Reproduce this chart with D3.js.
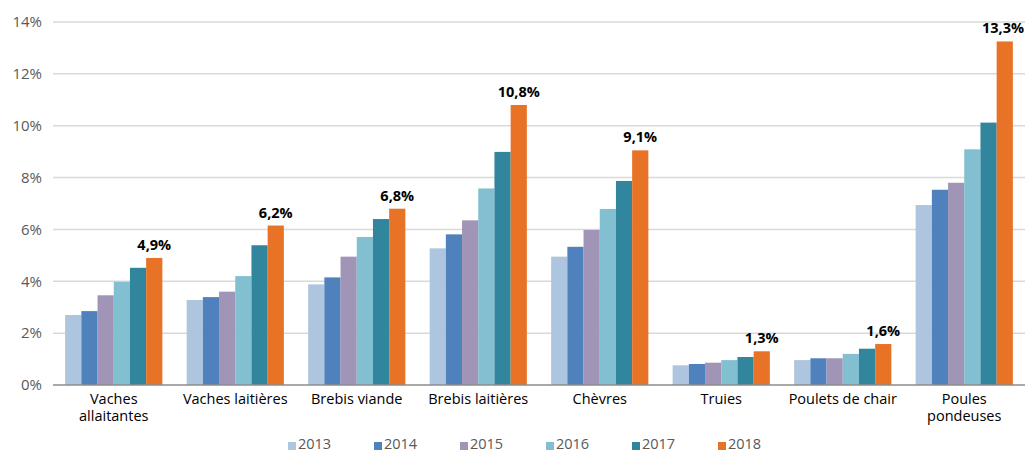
<!DOCTYPE html>
<html>
<head>
<meta charset="utf-8">
<script src="https://cdn.jsdelivr.net/npm/d3@7"></script>
<style>
  body { margin: 0; background: #fff; }
  text { font-family: "Open Sans", Lato, sans-serif; }
</style>
</head>
<body>
<div id="chart"></div>
<script>
// categories (two-line labels split by |)
var categories = ["Vaches|allaitantes", "Vaches laitières", "Brebis viande", "Brebis laitières",
                  "Chèvres", "Truies", "Poulets de chair", "Poules|pondeuses"];
var years = ["2013", "2014", "2015", "2016", "2017", "2018"];

var v2013 = [2.70, 3.28, 3.88, 5.27, 4.95, 0.76, 0.96, 6.94];
var v2014 = [2.85, 3.39, 4.15, 5.81, 5.33, 0.81, 1.03, 7.53];
var v2015 = [3.46, 3.60, 4.95, 6.35, 5.98, 0.86, 1.03, 7.80];
var v2016 = [3.98, 4.20, 5.71, 7.58, 6.79, 0.96, 1.20, 9.09];
var v2017 = [4.52, 5.39, 6.40, 8.99, 7.87, 1.08, 1.40, 10.12];
var v2018 = [4.9, 6.15, 6.8, 10.8, 9.05, 1.3, 1.58, 13.25];
var labels2018 = ["4,9%", "6,2%", "6,8%", "10,8%", "9,1%", "1,3%", "1,6%", "13,3%"];
var yTicks = [0, 2, 4, 6, 8, 10, 12, 14];

var series = [v2013, v2014, v2015, v2016, v2017, v2018];
var colors = ["#adc5de", "#4f81bd", "#a094b7", "#82bfd0", "#31859c", "#e87326"];

var width = 1025, height = 453;
var plotLeft = 53, plotRight = 1025, plotTop = 22, plotBottom = 385;

var svg = d3.select("#chart").append("svg")
    .attr("width", width)
    .attr("height", height);

var y = d3.scaleLinear().domain([0, 14]).range([plotBottom, plotTop]);
var x0 = d3.scaleBand().domain(d3.range(categories.length)).range([plotLeft, plotRight]).paddingInner(0.2).paddingOuter(0.1);
var x1 = d3.scaleBand().domain(d3.range(years.length)).range([0, x0.bandwidth()]);

// gridlines
svg.append("g").selectAll("line").data(yTicks.filter(function(d) { return d > 0; }))
    .enter().append("line")
    .attr("x1", plotLeft).attr("x2", plotRight)
    .attr("y1", function(d) { return y(d); })
    .attr("y2", function(d) { return y(d); })
    .attr("stroke", "#d9d9d9")
    .attr("stroke-width", 1.5);

// y tick labels
svg.append("g").selectAll("text").data(yTicks)
    .enter().append("text")
    .attr("x", 42)
    .attr("y", function(d) { return y(d); })
    .attr("dy", "0.35em")
    .attr("text-anchor", "end")
    .attr("fill", "#595959")
    .attr("font-size", 15)
    .text(function(d) { return d + "%"; });

// bars
var groups = svg.append("g").selectAll("g").data(categories)
    .enter().append("g")
    .attr("transform", function(d, i) { return "translate(" + x0(i) + ",0)"; });

groups.selectAll("rect")
    .data(function(d, i) { return series.map(function(s, k) { return {k: k, v: s[i]}; }); })
    .enter().append("rect")
    .attr("x", function(d) { return x1(d.k); })
    .attr("width", x1.bandwidth())
    .attr("y", function(d) { return y(d.v); })
    .attr("height", function(d) { return y(0) - y(d.v); })
    .attr("fill", function(d) { return colors[d.k]; });

// data labels on 2018 bars
groups.append("text")
    .attr("x", x1(5) + x1.bandwidth() / 2)
    .attr("y", function(d, i) { return y(v2018[i]) - 8; })
    .attr("text-anchor", "middle")
    .attr("font-size", 14.5)
    .attr("font-weight", "bold")
    .attr("fill", "#000")
    .text(function(d, i) { return labels2018[i]; })
    .each(function(d, i) {
        // keep label inside the svg
        var over = x0(i) + this.getBBox().x + this.getBBox().width - (width - 1);
        if (over > 0) d3.select(this).attr("x", +d3.select(this).attr("x") - over);
    });

// x axis line
svg.append("line")
    .attr("x1", plotLeft).attr("x2", plotRight)
    .attr("y1", y(0)).attr("y2", y(0))
    .attr("stroke", "#8c8c8c")
    .attr("stroke-width", 1.5);

// category labels
var cat = svg.append("g").selectAll("text").data(categories)
    .enter().append("text")
    .attr("x", function(d, i) { return x0(i) + x0.bandwidth() / 2; })
    .attr("y", 404)
    .attr("text-anchor", "middle")
    .attr("font-size", 14.5)
    .attr("fill", "#000");
cat.selectAll("tspan").data(function(d) { return d.split("|"); })
    .enter().append("tspan")
    .attr("x", function() { return this.parentNode.getAttribute("x"); })
    .attr("dy", function(d, i) { return i ? 17 : 0; })
    .text(function(d) { return d; });

// legend
var legend = svg.append("g").selectAll("g").data(years)
    .enter().append("g")
    .attr("transform", function(d, i) { return "translate(" + (288 + i * 86) + ",444)"; });
legend.append("rect")
    .attr("x", 0).attr("y", -2)
    .attr("width", 8).attr("height", 8)
    .attr("fill", function(d, i) { return colors[i]; });
legend.append("text")
    .attr("x", 10).attr("y", 0)
    .attr("dy", "0.35em")
    .attr("font-size", 14.5)
    .attr("fill", "#595959")
    .text(function(d) { return d; });
</script>
</body>
</html>
